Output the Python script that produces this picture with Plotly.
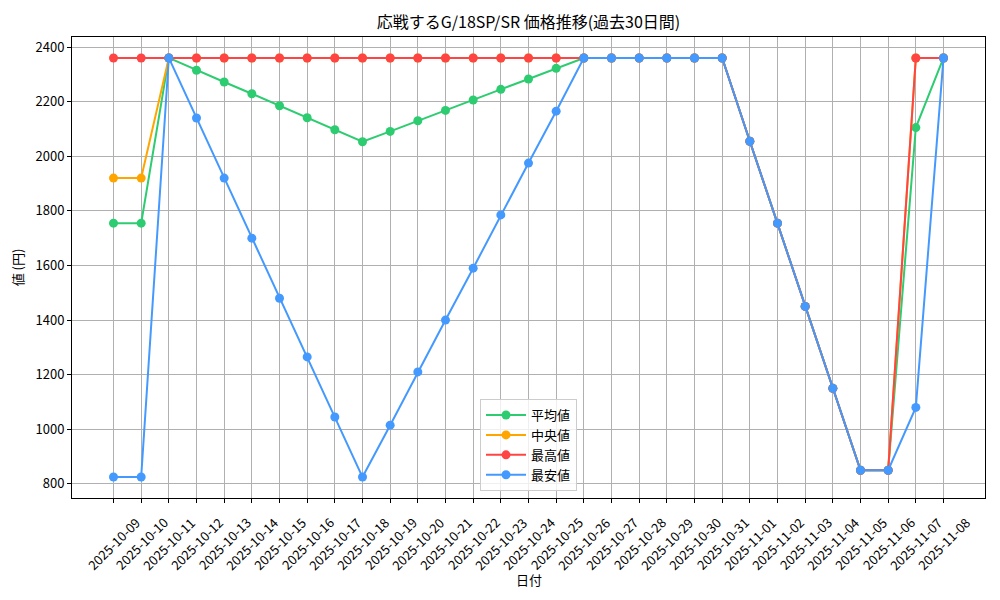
import plotly.graph_objects as go

dates = ["2025-10-09", "2025-10-10", "2025-10-11", "2025-10-12", "2025-10-13", "2025-10-14",
         "2025-10-15", "2025-10-16", "2025-10-17", "2025-10-18", "2025-10-19", "2025-10-20",
         "2025-10-21", "2025-10-22", "2025-10-23", "2025-10-24", "2025-10-25", "2025-10-26",
         "2025-10-27", "2025-10-28", "2025-10-29", "2025-10-30", "2025-10-31", "2025-11-01",
         "2025-11-02", "2025-11-03", "2025-11-04", "2025-11-05", "2025-11-06", "2025-11-07",
         "2025-11-08"]

avg_vals = [1755, 1755, 2360, 2315, 2272, 2229, 2185, 2141, 2097, 2053, 2091, 2130,
            2168, 2206, 2245, 2283, 2322, 2360, 2360, 2360, 2360, 2360, 2360, 2055,
            1755, 1450, 1150, 850, 850, 2105, 2360]
median_vals = [1920, 1920, 2360, 2360, 2360, 2360, 2360, 2360, 2360, 2360, 2360, 2360,
               2360, 2360, 2360, 2360, 2360, 2360, 2360, 2360, 2360, 2360, 2360, 2055,
               1755, 1450, 1150, 850, 850, 2360, 2360]
max_vals = [2360, 2360, 2360, 2360, 2360, 2360, 2360, 2360, 2360, 2360, 2360, 2360,
            2360, 2360, 2360, 2360, 2360, 2360, 2360, 2360, 2360, 2360, 2360, 2055,
            1755, 1450, 1150, 850, 850, 2360, 2360]
min_vals = [825, 825, 2360, 2140, 1920, 1700, 1480, 1265, 1045, 825, 1015, 1210,
            1400, 1590, 1785, 1975, 2165, 2360, 2360, 2360, 2360, 2360, 2360, 2055,
            1755, 1450, 1150, 850, 850, 1080, 2360]

series = [
    ("平均値", avg_vals, "#2ECC71"),
    ("中央値", median_vals, "#FFA500"),
    ("最高値", max_vals, "#FF4444"),
    ("最安値", min_vals, "#4499FF"),
]

title = "応戦するG/18SP/SR 価格推移(過去30日間)"
xlabel = "日付"
ylabel = "値 (円)"

FONT = "Noto Sans CJK JP"

# The page body has an 8px margin, so the figure is sized to sit inside it.
W, H = 992, 592

fig = go.Figure()
for name, vals, color in series:
    fig.add_trace(go.Scatter(
        x=dates, y=vals, name=name, mode="lines+markers",
        line=dict(color=color, width=2),
        marker=dict(color=color, size=9),
    ))

annotations = []
for d in dates:
    annotations.append(dict(
        x=d, xref="x", y=0, yref="paper", text=d, showarrow=False,
        textangle=-45, xanchor="center", yanchor="top", yshift=-12,
        font=dict(family=FONT, size=13, color="black"),
    ))
annotations.append(dict(
    x=0.5, xref="paper", y=0, yref="paper", text=xlabel, showarrow=False,
    xanchor="center", yanchor="top", yshift=-70,
    font=dict(family=FONT, size=13, color="black"),
))

fig.update_layout(
    width=W, height=H,
    margin=dict(l=64, r=15, t=29, b=102, autoexpand=False),
    paper_bgcolor="white", plot_bgcolor="white",
    font=dict(family=FONT, size=13, color="black"),
    title=dict(text=title, x=0.5, xref="paper", xanchor="center",
               y=1 - 14 / H, yanchor="middle",
               font=dict(family=FONT, size=16, color="black")),
    showlegend=True,
    legend=dict(x=0.5, xanchor="center", y=0.015, yanchor="bottom",
                bgcolor="rgba(255,255,255,0.8)", bordercolor="#CCCCCC", borderwidth=1,
                font=dict(family=FONT, size=13), itemwidth=40),
    annotations=annotations,
)

fig.update_xaxes(
    type="category", range=[-1.5, len(dates) + 0.5],
    showgrid=True, gridcolor="#B0B0B0", gridwidth=1,
    showline=True, linecolor="black", linewidth=1, mirror=True,
    ticks="outside", ticklen=4, tickcolor="black",
    showticklabels=False, zeroline=False, automargin=False,
)
fig.update_yaxes(
    range=[748.25, 2436.75],
    tickvals=[800, 1000, 1200, 1400, 1600, 1800, 2000, 2200, 2400],
    showgrid=True, gridcolor="#B0B0B0", gridwidth=1,
    showline=True, linecolor="black", linewidth=1, mirror=True,
    ticks="outside", ticklen=4, tickcolor="black",
    tickfont=dict(family=FONT, size=13), zeroline=False, automargin=False,
    title=dict(text=ylabel, font=dict(family=FONT, size=13), standoff=12),
)

fig.write_html("out.html")
